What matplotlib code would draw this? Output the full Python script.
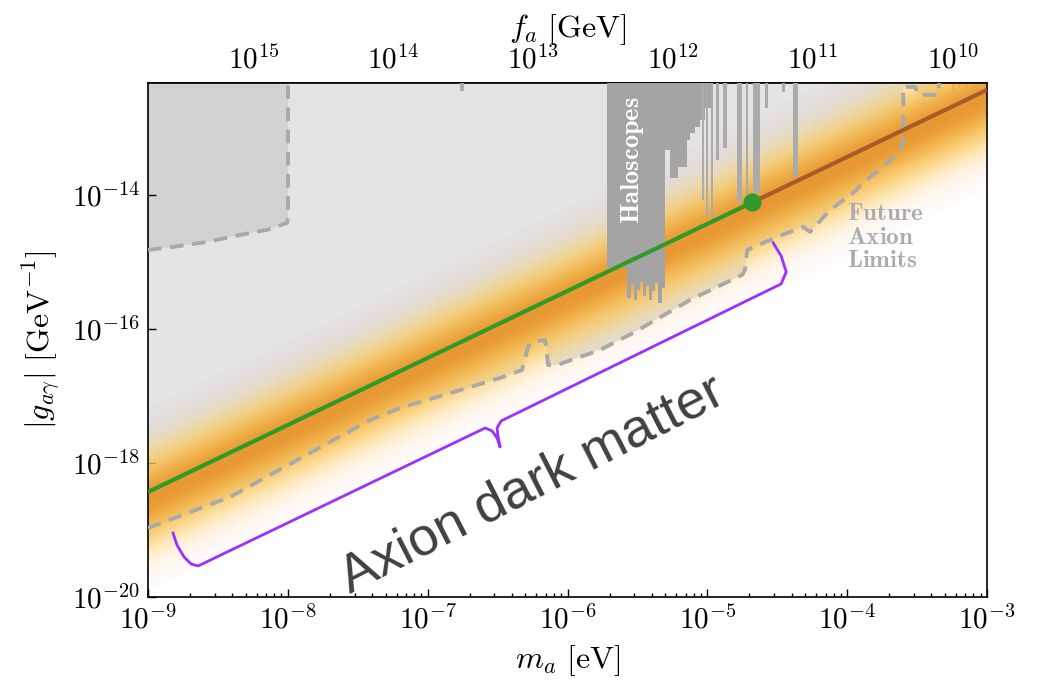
import numpy as np
import matplotlib
matplotlib.use('Agg')
import matplotlib.pyplot as plt
from matplotlib.colors import ListedColormap
from matplotlib.ticker import LogLocator, FuncFormatter, NullLocator, FixedLocator, NullFormatter

plt.rcParams['mathtext.fontset'] = 'cm'
plt.rcParams['font.family'] = 'serif'
plt.rcParams['axes.linewidth'] = 1.2

# QCD axion line: log10 g = log10 m_a + line_offset
line_offset = -9.433
logm_transition = -4.677      # end of the dark-matter (green) part
fa_per_ma = 5.7e6             # f_a [GeV] * m_a [eV]

xlim_log = (-9.0, -3.0)
ylim_log = (-20.0, -12.33)

# projected reach ("Future Axion Limits"), dashed boundary
future_logm = [-9.0, -8.413, -7.412, -7.197, -6.718, -6.482, -6.325, -6.282, -6.253,
               -6.160, -6.139, -6.074, -5.767, -5.531, -5.123, -4.751, -4.730, -4.715,
               -4.501, -4.315, -4.265, -4.122, -3.957, -3.886, -3.621, -3.599, -3.599,
               -3.514, -3.492, -3.349, -3.342]
future_logg = [-18.97, -18.507, -17.358, -17.179, -16.881, -16.731, -16.612, -16.269, -16.194,
               -16.164, -16.537, -16.537, -16.313, -16.060, -15.567, -15.194, -15.119, -14.821,
               -14.627, -14.478, -14.552, -14.224, -13.970, -13.821, -13.358, -13.179, -12.388,
               -12.388, -12.507, -12.507, -12.33]

# darker upper-left region
upper_logm = [-9.0, -8.821, -8.578, -8.342, -8.149, -8.006, -7.999, -7.999]
upper_logg = [-14.821, -14.776, -14.701, -14.597, -14.522, -14.418, -14.343, -12.33]

# haloscope exclusions: stepped block
halo_edges_logm = [-5.717, -5.574, -5.546, -5.524, -5.503, -5.481, -5.460, -5.438, -5.417,
                   -5.396, -5.374, -5.353, -5.324, -5.302, -5.266, -5.209, -5.144, -5.123,
                   -5.087, -5.052, -5.016, -4.958]
halo_bottom_logg = [-15.090, -15.537, -15.328, -15.567, -15.418, -15.299, -15.507, -15.358,
                    -15.567, -15.433, -15.313, -15.612, -15.388, -13.328, -13.746, -13.582,
                    -13.179, -13.075, -12.985, -12.881, -12.701]

# haloscope exclusions: narrow resonant scans
spike_left_logm = [-5.037, -5.009, -4.973, -4.937, -4.887, -4.788, -4.723, -4.672, -4.588, -4.465, -4.386]
spike_right_logm = [-5.023, -4.994, -4.958, -4.916, -4.858, -4.752, -4.708, -4.622, -4.565, -4.444, -4.350]
spike_bottom_logg = [-14.075, -14.328, -14.343, -13.478, -13.299, -14.104, -14.030, -13.970,
                     -12.701, -12.463, -13.731]

# curly bracket under the dark-matter range
brace_logm = [-8.821, -8.793, -8.742, -8.692, -8.642, -6.589, -6.539, -6.504, -6.482,
              -6.496, -6.504, -6.475, -4.472, -4.436, -4.472, -4.529]
brace_logg = [-19.045, -19.224, -19.403, -19.507, -19.537, -17.478, -17.522, -17.627, -17.761,
              -17.612, -17.478, -17.373, -15.328, -15.149, -14.910, -14.716]

fig = plt.figure(figsize=(10.41, 6.83), dpi=100)
ax = fig.add_axes([148 / 1041, 1 - 597 / 683, 839 / 1041, 514 / 683])
ax.set_xscale('log')
ax.set_yscale('log')
ax.set_xlim(10 ** xlim_log[0], 10 ** xlim_log[1])
ax.set_ylim(10 ** ylim_log[0], 10 ** ylim_log[1])

m_lo, m_hi = 10 ** xlim_log[0], 10 ** xlim_log[1]
g_top = 10 ** ylim_log[1]

fm = 10 ** np.array(future_logm)
fg = 10 ** np.array(future_logg)
um = 10 ** np.array(upper_logm)
ug = 10 ** np.array(upper_logg)

ax.fill(np.r_[fm, m_lo], np.r_[fg, g_top], color='#e4e4e4', lw=0, zorder=1)
ax.fill(np.r_[um, m_lo], np.r_[ug, g_top], color='#d2d2d2', lw=0, zorder=1.1)

# QCD axion band around the line
v = np.linspace(-1.6, 1.6, 512)
core = np.exp(-0.5 * ((v + 0.1) / 0.3) ** 2)
glow = np.exp(-0.5 * ((v + 0.12) / 0.4) ** 2)
orange = np.array([232, 152, 50]) / 255
yellow = np.array([255, 210, 100]) / 255
rgb = core[:, None] * orange + (1 - core[:, None]) * yellow
band_cmap = ListedColormap(np.column_stack([rgb, 0.78 * glow]))
band_cmap.set_under((1, 1, 1, 0))
band_cmap.set_over((1, 1, 1, 0))

lm = np.linspace(*xlim_log, 300)
lg = np.linspace(*ylim_log, 400)
LM, LG = np.meshgrid(lm, lg)
ax.pcolormesh(10 ** LM, 10 ** LG, LG - LM - line_offset, cmap=band_cmap,
              vmin=-1.6, vmax=1.6, shading='gouraud', zorder=2)

# haloscopes
he = 10 ** np.array(halo_edges_logm)
hb = 10 ** np.array(halo_bottom_logg + halo_bottom_logg[-1:])
ax.fill_between(he, hb, g_top, step='post', color='#a4a4a4', lw=0, zorder=3)
sl = 10 ** np.array(spike_left_logm)
sr = 10 ** np.array(spike_right_logm)
sb = 10 ** np.array(spike_bottom_logg)
ax.bar(sl, g_top - sb, width=sr - sl, bottom=sb, align='edge', color='#ababab', lw=0, zorder=3)
ax.text(10 ** -5.538, 10 ** -13.478, r'$\mathbf{Haloscopes}$', color='white', fontsize=19,
        rotation=90, ha='center', va='center', zorder=7)

# dashed boundaries
dash = dict(color='#a9a9a9', lw=2.8, dashes=(3.5, 2.2), zorder=4)
ax.plot(fm, fg, **dash)
ax.plot(um, ug, **dash)
ax.plot([10 ** -6.754] * 2, [g_top, 10 ** -12.42], color='#a9a9a9', lw=2.8, zorder=4)

# axion line
m_line = 10 ** np.array([xlim_log[0], logm_transition, xlim_log[1]])
g_line = m_line * 10 ** line_offset
ax.plot(m_line[:2], g_line[:2], color='#2f9a2a', lw=3, zorder=5, solid_capstyle='butt')
ax.plot(m_line[1:], g_line[1:], color='#a85a2a', lw=3, zorder=5, solid_capstyle='butt')
ax.plot(m_line[1], g_line[1], 'o', color='#2f9a2a', ms=12, zorder=6)

ax.text(10 ** -4.0, 10 ** -14.1, '\n'.join([r'$\mathbf{Future}$', r'$\mathbf{Axion}$', r'$\mathbf{Limits}$']),
        color='#abacb2', fontsize=18, ha='left', va='top', linespacing=1.05, zorder=7)

# annotation
ax.plot(10 ** np.array(brace_logm), 10 ** np.array(brace_logg), color='#9b30ff', lw=2,
        zorder=8, solid_joinstyle='round', clip_on=False)
ax.text(10 ** -6.253, 10 ** -18.328, 'Axion dark matter', family='Liberation Sans', fontsize=39,
        color='#404040', rotation=27, rotation_mode='anchor', ha='center', va='center', zorder=9)

# ticks
fmt = FuncFormatter(lambda val, pos: r'$10^{%d}$' % round(np.log10(val)))
ax.xaxis.set_major_locator(LogLocator(base=10, numticks=20))
ax.xaxis.set_minor_locator(LogLocator(base=10, subs=np.arange(2, 10), numticks=20))
ax.xaxis.set_major_formatter(fmt)
ax.xaxis.set_minor_formatter(NullFormatter())
ax.yaxis.set_major_locator(FixedLocator([1e-20, 1e-18, 1e-16, 1e-14]))
ax.yaxis.set_minor_locator(NullLocator())
ax.yaxis.set_major_formatter(fmt)
ax.tick_params(which='both', direction='in', top=False, right=False, labelsize=21, width=1)
ax.tick_params(which='major', length=6, pad=6)
ax.tick_params(which='minor', length=3)

ax.set_xlabel(r'$m_a\ [\mathrm{eV}]$', fontsize=23, labelpad=6)
ax.set_ylabel(r'$|g_{a\gamma}|\ [\mathrm{GeV}^{-1}]$', fontsize=23, labelpad=6)

secax = ax.secondary_xaxis('top', functions=(lambda m: fa_per_ma / np.asarray(m, float),
                                             lambda f: fa_per_ma / np.asarray(f, float)))
secax.xaxis.set_major_locator(FixedLocator([1e15, 1e14, 1e13, 1e12, 1e11, 1e10]))
secax.xaxis.set_minor_locator(LogLocator(base=10, subs=np.arange(2, 10), numticks=20))
secax.xaxis.set_major_formatter(fmt)
secax.xaxis.set_minor_formatter(NullFormatter())
secax.tick_params(which='both', direction='in', labelsize=21, width=1)
secax.tick_params(which='major', length=6, pad=6)
secax.tick_params(which='minor', length=3)
secax.set_xlabel(r'$f_a\ [\mathrm{GeV}]$', fontsize=23, labelpad=6)

fig.savefig('out.png', dpi=100)
